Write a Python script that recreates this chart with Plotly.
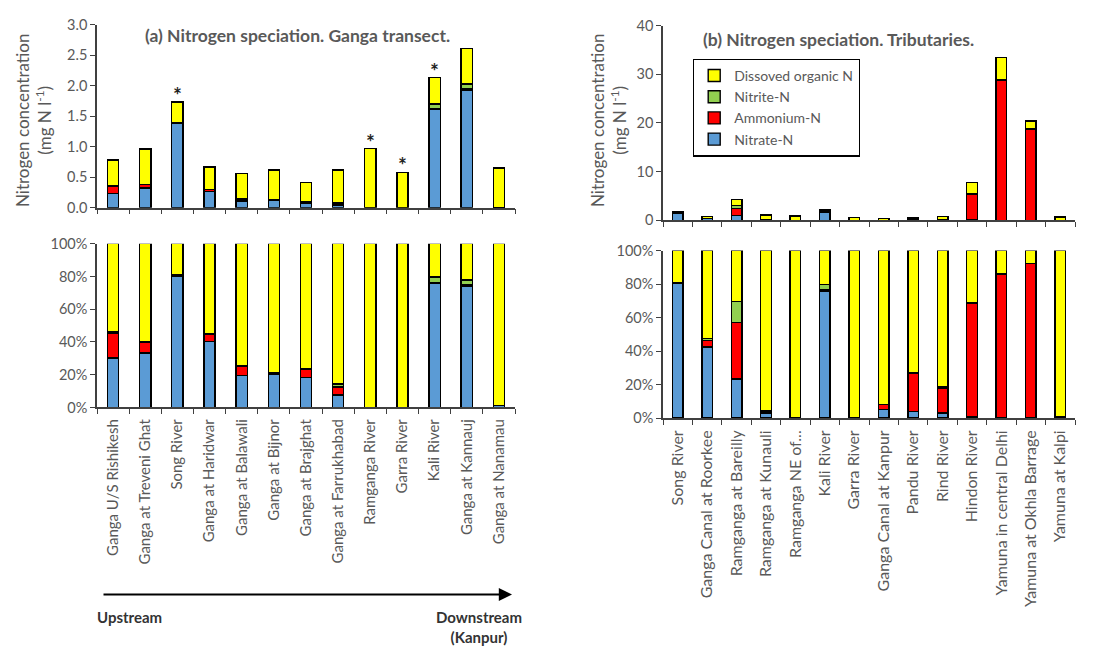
import plotly.graph_objects as go

# ---- Panel (a): Ganga transect, upstream -> downstream ----
ganga_sites = [
    "Ganga U/S Rishikesh", "Ganga at Treveni Ghat", "Song River", "Ganga at Haridwar",
    "Ganga at Balawali", "Ganga at Bijnor", "Ganga at Brajghat", "Ganga at Farrukhabad",
    "Ramganga River", "Garra River", "Kali River", "Ganga at Kannauj", "Ganga at Nanamau",
]
ganga_nitrate = [0.235, 0.32, 1.39, 0.27, 0.11, 0.125, 0.075, 0.047, 0.0, 0.0, 1.61, 1.93, 0.008]
ganga_ammonium = [0.12, 0.06, 0.0, 0.03, 0.03, 0.0, 0.02, 0.03, 0.0, 0.0, 0.02, 0.02, 0.0]
ganga_nitrite = [0.005, 0.005, 0.01, 0.002, 0.002, 0.006, 0.002, 0.012, 0.0, 0.0, 0.07, 0.08, 0.0]
ganga_don = [0.42, 0.575, 0.33, 0.368, 0.418, 0.489, 0.313, 0.531, 0.97, 0.58, 0.43, 0.58, 0.642]
ganga_star = [False, False, True, False, False, False, False, False, True, True, True, False, False]

# ---- Panel (b): tributaries ----
trib_sites = [
    "Song River", "Ganga Canal at Roorkee", "Ramganga at Bareilly", "Ramganga at Kunauli",
    "Ramganga NE of...", "Kali River", "Garra River", "Ganga Canal at Kanpur",
    "Pandu River", "Rind River", "Hindon River", "Yamuna in central Delhi",
    "Yamuna at Okhla Barrage", "Yamuna at Kalpi",
]
trib_nitrate = [1.39, 0.34, 1.0, 0.033, 0.0, 1.61, 0.0, 0.018, 0.02, 0.025, 0.08, 0.0, 0.0, 0.007]
trib_ammonium = [0.0, 0.03, 1.45, 0.005, 0.0, 0.02, 0.0, 0.01, 0.115, 0.12, 5.3, 28.8, 18.8, 0.0]
trib_nitrite = [0.01, 0.01, 0.55, 0.01, 0.0, 0.07, 0.0, 0.0, 0.0, 0.008, 0.0, 0.0, 0.0, 0.0]
trib_don = [0.33, 0.42, 1.3, 1.05, 0.9, 0.43, 0.58, 0.32, 0.365, 0.65, 2.45, 4.7, 1.6, 0.69]

species = ["Nitrate-N", "Ammonium-N", "Nitrite-N", "Dissoved organic N"]
colors = ["#5B9BD5", "#FF0000", "#92D050", "#FFFF00"]

TXT = "#595959"
AX = "#404040"
FONT = "Lato, Carlito, Liberation Sans, sans-serif"

fig = go.Figure()


def percent(parts):
    totals = [sum(v) for v in zip(*parts)]
    return [[100.0 * v / t if t else 0.0 for v, t in zip(p, totals)] for p in parts]


def add_panel(sites, parts, xa_top, ya_top, xa_bot, ya_bot, width, legend):
    pct = percent(parts)
    for i, name in enumerate(species):
        common = dict(name=name, marker=dict(color=colors[i], line=dict(color="#000000", width=1.4)),
                      width=width, legendgroup=name, hoverinfo="x+y")
        fig.add_trace(go.Bar(x=sites, y=parts[i], xaxis=xa_top, yaxis=ya_top,
                             showlegend=legend, **common))
        fig.add_trace(go.Bar(x=sites, y=pct[i], xaxis=xa_bot, yaxis=ya_bot,
                             showlegend=False, **common))


add_panel(ganga_sites, [ganga_nitrate, ganga_ammonium, ganga_nitrite, ganga_don],
          "x", "y", "x2", "y2", 0.35, False)
add_panel(trib_sites, [trib_nitrate, trib_ammonium, trib_nitrite, trib_don],
          "x3", "y3", "x4", "y4", 0.36, True)

W, H = 1096, 659
px = lambda v: v / W
py = lambda v: 1 - v / H


def xaxis_style(size):
    return dict(type="category", showline=True, linecolor=AX, linewidth=1.5, ticks="outside",
                tickson="boundaries", ticklen=5, tickcolor=AX, tickwidth=1.3, showgrid=False,
                tickangle=-90, ticklabelstandoff=4,
                tickfont=dict(family=FONT, size=size, color=TXT))


ycommon = dict(showline=True, linecolor=AX, linewidth=1.5, ticks="outside", ticklen=5,
               tickcolor=AX, tickwidth=1.3, showgrid=False, zeroline=False,
               tickfont=dict(family=FONT, size=14.5, color=TXT))

dom_a = [px(97), px(515)]
dom_b = [px(663), px(1075)]

fig.update_layout(
    barmode="stack",
    width=W, height=H,
    margin=dict(l=0, r=0, t=0, b=0),
    paper_bgcolor="white", plot_bgcolor="white",
    font=dict(family=FONT, color=TXT),
    xaxis=dict(domain=dom_a, anchor="y", showticklabels=False, **xaxis_style(15)),
    yaxis=dict(domain=[py(204), py(16)], anchor="x", range=[0, 3.0], dtick=0.5,
               tickformat=".1f", **ycommon),
    xaxis2=dict(domain=dom_a, anchor="y2", **xaxis_style(15)),
    yaxis2=dict(domain=[py(409), py(241)], anchor="x2", range=[0, 100], dtick=20,
                ticksuffix="%", **ycommon),
    xaxis3=dict(domain=dom_b, anchor="y3", showticklabels=False, **xaxis_style(16)),
    yaxis3=dict(domain=[py(217), py(17)], anchor="x3", range=[0, 40], dtick=10, **ycommon),
    xaxis4=dict(domain=dom_b, anchor="y4", **xaxis_style(16)),
    yaxis4=dict(domain=[py(420), py(248)], anchor="x4", range=[0, 100], dtick=20,
                ticksuffix="%", **ycommon),
    legend=dict(x=px(693), y=py(51), xanchor="left", yanchor="top", traceorder="reversed",
                bordercolor="#000000", borderwidth=1.2, bgcolor="white",
                font=dict(family=FONT, size=14, color=TXT), itemwidth=30,
                tracegroupgap=0),
)

ann = []
# panel titles
ann.append(dict(text="<b>(a) Nitrogen speciation. Ganga transect.</b>", x=px(298), y=py(27),
                xref="paper", yref="paper", xanchor="center", yanchor="middle", showarrow=False,
                font=dict(family=FONT, size=17.5, color=TXT)))
ann.append(dict(text="<b>(b) Nitrogen speciation. Tributaries.</b>", x=px(838), y=py(31),
                xref="paper", yref="paper", xanchor="center", yanchor="middle", showarrow=False,
                font=dict(family=FONT, size=17.5, color=TXT)))
# y-axis titles
for xc in (px(33), px(608)):
    ann.append(dict(text="Nitrogen concentration<br>(mg N l<sup>-1</sup>)", x=xc, y=py(115),
                    xref="paper", yref="paper", xanchor="center", yanchor="middle",
                    showarrow=False, textangle=-90,
                    font=dict(family=FONT, size=17, color=TXT)))
# asterisks above flagged transect bars
totals_a = [sum(v) for v in zip(ganga_nitrate, ganga_ammonium, ganga_nitrite, ganga_don)]
for site, tot, flag in zip(ganga_sites, totals_a, ganga_star):
    if flag:
        ann.append(dict(text="<b>*</b>", x=site, y=tot, xref="x", yref="y", showarrow=False,
                        yanchor="bottom", yshift=-7,
                        font=dict(family=FONT, size=21, color="#1f1f1f")))
# upstream -> downstream arrow
ann.append(dict(x=px(512), y=py(601), xref="paper", yref="paper", ax=-410, ay=0,
                axref="pixel", ayref="pixel", text="", showarrow=True, arrowhead=2,
                arrowsize=1.2, arrowwidth=2.2, arrowcolor="#000000"))
ann.append(dict(text="<b>Upstream</b>", x=px(95), y=py(624), xref="paper", yref="paper",
                xanchor="left", yanchor="middle", showarrow=False,
                font=dict(family=FONT, size=15, color="#333333")))
ann.append(dict(text="<b>Downstream</b><br><b>(Kanpur)</b>", x=px(479), y=py(634),
                xref="paper", yref="paper", xanchor="center", yanchor="middle", showarrow=False,
                font=dict(family=FONT, size=15, color="#333333")))
fig.update_layout(annotations=ann)

fig.write_html("out.html")
